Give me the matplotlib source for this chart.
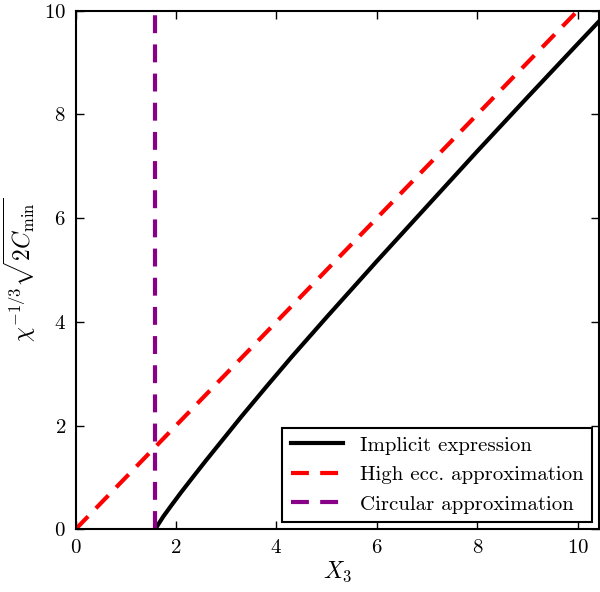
import numpy as np
import matplotlib
matplotlib.use("Agg")
import matplotlib.pyplot as plt

# ---- data ----
# implicit expression (black curve)
x_implicit = [1.587, 1.65, 1.75, 1.9, 2.1, 2.34, 2.6, 2.9, 3.3, 3.8, 4.3,
              5.0, 6.0, 7.0, 8.0, 9.0, 10.0, 10.43]
y_implicit = [0.0, 0.10, 0.25, 0.45, 0.71, 1.01, 1.33, 1.69, 2.17, 2.75, 3.32,
              4.09, 5.17, 6.23, 7.29, 8.33, 9.36, 9.8]
# high eccentricity approximation (red dashed)
x_high = [0.0, 10.5]
y_high = [0.0, 10.5]
# circular approximation (vertical purple dashed line)
x_circ = 2 ** (2.0 / 3.0)

x_ticks = [0, 2, 4, 6, 8, 10]
y_ticks = [0, 2, 4, 6, 8, 10]

# ---- style ----
plt.rcParams['font.family'] = 'serif'
plt.rcParams['font.serif'] = ['cmr10']
plt.rcParams['mathtext.fontset'] = 'cm'
plt.rcParams['axes.unicode_minus'] = False
plt.rcParams['axes.formatter.use_mathtext'] = True

fig = plt.figure(figsize=(6.0, 5.92), dpi=100)
ax = fig.add_axes([0.126, 0.106, 0.872, 0.876])

ax.plot(x_implicit, y_implicit, color='black', lw=3, label='Implicit expression')
ax.plot(x_high, y_high, color='red', lw=3, ls=(0, (4.3, 2.7)), label='High ecc. approximation')
ax.axvline(x_circ, color='#880088', lw=3, ls=(0, (4.3, 2.7)), label='Circular approximation')

ax.set_xlim(0, 10.42)
ax.set_ylim(0, 10)
ax.set_xticks(x_ticks)
ax.set_yticks(y_ticks)
ax.tick_params(direction='in', top=True, right=True, length=6, width=1,
               labelsize=15, pad=7)
for sp in ax.spines.values():
    sp.set_linewidth(1.5)

ax.set_xlabel(r'$X_3$', fontsize=17, labelpad=2)
ax.set_ylabel(r'$\chi^{-1/3}\sqrt{2C_{\rm min}}$', fontsize=17, labelpad=4)

leg = ax.legend(loc='lower right', fontsize=15, handlelength=2.5, fancybox=False,
                framealpha=1, borderaxespad=0.35, labelspacing=0.52)
leg.get_frame().set_edgecolor('black')
leg.get_frame().set_linewidth(1.5)

fig.savefig('out.png', dpi=100)
